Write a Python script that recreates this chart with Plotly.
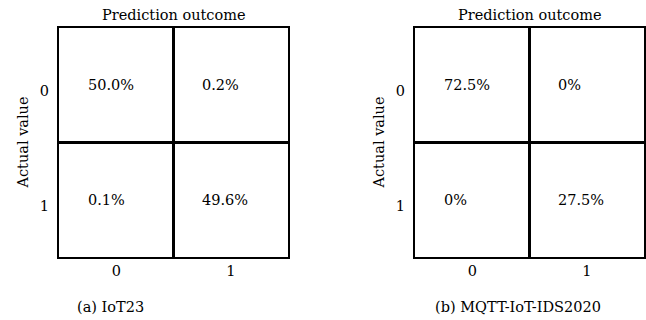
import plotly.graph_objects as go

# Data
pred_labels = ["0", "1"]
actual_labels = ["0", "1"]
iot23_values = [[50.0, 0.2], [0.1, 49.6]]
iot23_text = [["50.0%", "0.2%"], ["0.1%", "49.6%"]]
mqtt_values = [[72.5, 0.0], [0.0, 27.5]]
mqtt_text = [["72.5%", "0%"], ["0%", "27.5%"]]
captions = ["(a) IoT23", "(b) MQTT-IoT-IDS2020"]

FONT = "DejaVu Serif"
FS = 14.5
W, H = 646, 320

fig = go.Figure()

panels = [
    dict(vals=iot23_values, txt=iot23_text, xa="x", ya="y", dom=[59 / W, 288 / W], cap=captions[0]),
    dict(vals=mqtt_values, txt=mqtt_text, xa="x2", ya="y2", dom=[415 / W, 644 / W], cap=captions[1]),
]
ydom = [1 - 257 / H, 1 - 28 / H]

for i, p in enumerate(panels):
    fig.add_trace(go.Heatmap(
        z=p["vals"], x=[0, 1], y=[0, 1],
        colorscale=[[0, "rgba(255,255,255,0)"], [1, "rgba(255,255,255,0)"]], showscale=False,
        hoverinfo="skip", xaxis=p["xa"], yaxis=p["ya"],
    ))
    for r in range(2):
        for c in range(2):
            fig.add_annotation(
                x=c - 0.5 + 0.235, y=r, xref=p["xa"], yref=p["ya"],
                text=p["txt"][r][c], showarrow=False, xanchor="left", yanchor="middle",
                font=dict(family=FONT, size=FS, color="black"),
            )
    sfx = "" if i == 0 else str(i + 1)
    axis_common = dict(showline=True, linewidth=2, linecolor="black", mirror=True,
                       showgrid=False, zeroline=False, ticks="",
                       tickfont=dict(family=FONT, size=FS, color="black"),
                       minor=dict(tickvals=[0.5], showgrid=True, gridwidth=3, gridcolor="black", ticks=""))
    fig.update_layout(**{
        "xaxis" + sfx: dict(domain=p["dom"], range=[-0.5, 1.5], tickvals=[0, 1], ticktext=pred_labels,
                            anchor="y" + sfx, ticklabelstandoff=0, **axis_common),
        "yaxis" + sfx: dict(domain=ydom, range=[1.5, -0.5], tickvals=[0, 1], ticktext=actual_labels,
                            anchor="x" + sfx, ticklabelstandoff=5, ticklabelshift=-6, **axis_common),
    })
    xc = (p["dom"][0] + p["dom"][1]) / 2
    fig.add_annotation(x=xc, y=1 - 15 / H, xref="paper", yref="paper", text="Prediction outcome",
                       showarrow=False, xanchor="center", yanchor="middle",
                       font=dict(family=FONT, size=FS, color="black"))
    fig.add_annotation(x=p["dom"][0] - 37 / W, y=(ydom[0] + ydom[1]) / 2, xref="paper", yref="paper",
                       text="Actual value", textangle=-90, showarrow=False,
                       xanchor="center", yanchor="middle",
                       font=dict(family=FONT, size=FS, color="black"))
    capx = [110 / W, 518 / W][i]
    fig.add_annotation(x=capx, y=1 - 307 / H, xref="paper", yref="paper", text=p["cap"],
                       showarrow=False, xanchor="center", yanchor="middle",
                       font=dict(family=FONT, size=FS, color="black"))

fig.update_layout(width=W, height=H, margin=dict(l=0, r=0, t=0, b=0),
                  paper_bgcolor="white", plot_bgcolor="white", showlegend=False)

fig.write_html("out.html", config={"displayModeBar": False},
               post_script="document.body.style.margin='0';document.body.style.overflow='hidden';")
